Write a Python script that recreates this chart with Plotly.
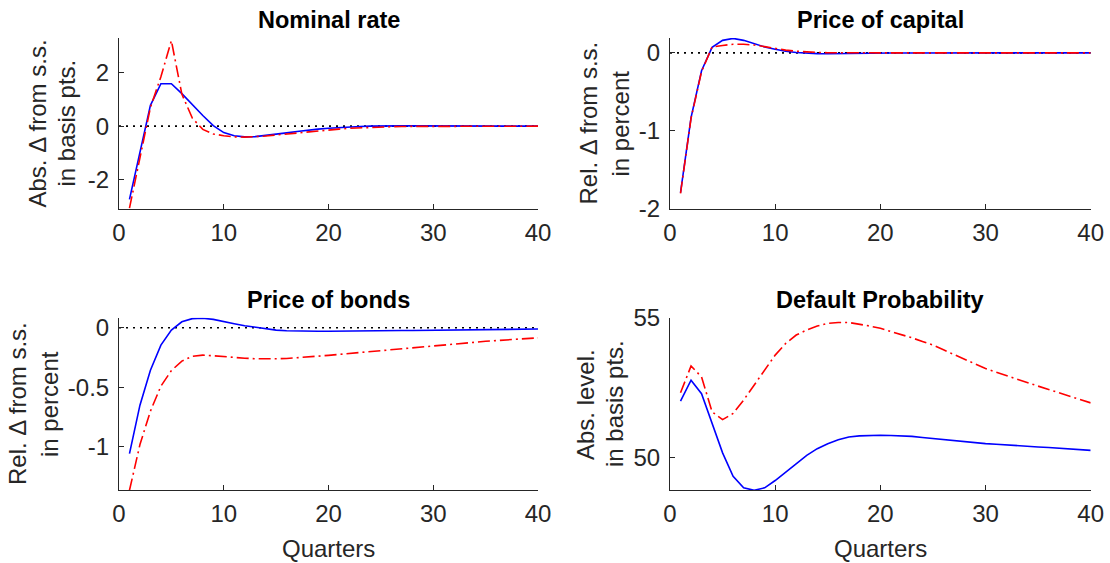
import plotly.graph_objects as go

quarters = list(range(1, 41))

# Nominal rate (abs. deviation, basis points)
nom_blue = [-2.74, -0.95, 0.78, 1.59, 1.59, 1.22, 0.80, 0.40, 0.02, -0.24,
            -0.36, -0.40, -0.39, -0.35, -0.30, -0.25, -0.20, -0.15, -0.11, -0.08,
            -0.05, -0.02, -0.01, 0.00, 0.01, 0.01, 0.01, 0.01, 0.01, 0.01,
            0.00, 0.00, 0.00, 0.00, 0.00, 0.00, 0.00, 0.00, 0.00, 0.00]
nom_red = [-3.07, -1.15, 0.70, 1.85, 3.20, 1.20, 0.30, -0.12, -0.29, -0.36,
           -0.40, -0.41, -0.40, -0.37, -0.33, -0.29, -0.25, -0.21, -0.17, -0.14,
           -0.11, -0.08, -0.06, -0.04, -0.03, -0.02, -0.01, -0.01, -0.01, 0.00,
           0.00, 0.00, 0.00, 0.00, 0.00, 0.00, 0.00, 0.00, 0.00, 0.00]

# Price of capital (rel. deviation, percent)
cap_blue = [-1.79, -0.83, -0.23, 0.07, 0.16, 0.185, 0.16, 0.115, 0.075, 0.045,
            0.02, 0.005, -0.005, -0.01, -0.012, -0.012, -0.01, -0.008, -0.006, -0.004,
            -0.003, -0.002, -0.001, -0.001, 0.0, 0.0, 0.0, 0.0, 0.0, 0.0,
            0.0, 0.0, 0.0, 0.0, 0.0, 0.0, 0.0, 0.0, 0.0, 0.0]
cap_red = [-1.80, -0.84, -0.24, 0.075, 0.095, 0.11, 0.11, 0.10, 0.08, 0.055,
           0.035, 0.02, 0.01, 0.005, 0.002, 0.0, 0.0, 0.0, 0.0, 0.0,
           0.0, 0.0, 0.0, 0.0, 0.0, 0.0, 0.0, 0.0, 0.0, 0.0,
           0.0, 0.0, 0.0, 0.0, 0.0, 0.0, 0.0, 0.0, 0.0, 0.0]

# Price of bonds (rel. deviation, percent)
bond_blue = [-1.056, -0.65, -0.356, -0.146, -0.02, 0.05, 0.076, 0.079, 0.07, 0.05,
             0.034, 0.017, 0.003, -0.011, -0.02, -0.025, -0.028, -0.03, -0.03, -0.03,
             -0.03, -0.029, -0.028, -0.027, -0.026, -0.025, -0.024, -0.023, -0.022, -0.021,
             -0.02, -0.019, -0.018, -0.017, -0.016, -0.015, -0.014, -0.013, -0.012, -0.011]
bond_red = [-1.364, -0.98, -0.70, -0.49, -0.36, -0.28, -0.24, -0.23, -0.235, -0.243,
            -0.25, -0.256, -0.26, -0.262, -0.261, -0.258, -0.253, -0.247, -0.24, -0.232,
            -0.224, -0.216, -0.207, -0.198, -0.19, -0.181, -0.173, -0.165, -0.157, -0.149,
            -0.142, -0.135, -0.128, -0.121, -0.114, -0.108, -0.102, -0.096, -0.09, -0.085]

# Default probability (abs. level, basis points)
dp_blue = [52.01, 52.76, 52.28, 51.21, 50.16, 49.32, 48.91, 48.82, 48.91, 49.17,
           49.47, 49.77, 50.07, 50.31, 50.49, 50.63, 50.73, 50.77, 50.79, 50.79,
           50.78, 50.77, 50.75, 50.71, 50.67, 50.64, 50.60, 50.56, 50.53, 50.49,
           50.47, 50.44, 50.42, 50.40, 50.37, 50.35, 50.33, 50.30, 50.28, 50.25]
dp_red = [52.31, 53.27, 52.88, 51.63, 51.35, 51.57, 52.05, 52.58, 53.15, 53.66,
          54.08, 54.38, 54.56, 54.70, 54.80, 54.83, 54.83, 54.77, 54.70, 54.62,
          54.51, 54.40, 54.28, 54.15, 54.02, 53.85, 53.68, 53.51, 53.34, 53.18,
          53.05, 52.92, 52.79, 52.67, 52.55, 52.43, 52.31, 52.19, 52.07, 51.95]

titles = ["Nominal rate", "Price of capital", "Price of bonds", "Default Probability"]
ylabels = [("Abs. Δ from s.s.", "in basis pts."),
           ("Rel. Δ from s.s.", "in percent"),
           ("Rel. Δ from s.s.", "in percent"),
           ("Abs. level.", "in basis pts.")]
yranges = [[-3.1, 3.3], [-2.0, 0.19], [-1.364, 0.084], [48.82, 55.0]]
yticks = [[-2, 0, 2], [-2, -1, 0], [-1, -0.5, 0], [50, 55]]
yticklabels = [["-2", "0", "2"], ["-2", "-1", "0"], ["-1", "-0.5", "0"], ["50", "55"]]
xticks = [0, 10, 20, 30, 40]
xticklabels = ["0", "10", "20", "30", "40"]
series = [(nom_blue, nom_red), (cap_blue, cap_red), (bond_blue, bond_red), (dp_blue, dp_red)]
zero_line = [True, True, True, False]

W, H = 1110, 563
FONT = "Arial, Liberation Sans, Helvetica, sans-serif"
INK = "#262626"

# pixel layout of plot areas
xdoms_px = [(119, 538), (670, 1090.7), (119, 538), (670, 1090.7)]
ydoms_px = [(38, 209), (38, 209), (317.7, 490.3), (317.7, 490.3)]
ylab_x = [(37, 66), (588, 620), (17, 49), (585, 614)]

fig = go.Figure()
annotations = []
layout = {}
for i in range(4):
    ax = "" if i == 0 else str(i + 1)
    xa, ya = "x" + ax, "y" + ax
    b, r = series[i]
    if zero_line[i]:
        fig.add_trace(go.Scatter(x=[0, 40], y=[0, 0], mode="lines", xaxis=xa, yaxis=ya,
                                 line=dict(color="black", width=1.6, dash="2px,5px"),
                                 hoverinfo="skip", showlegend=False))
    fig.add_trace(go.Scatter(x=quarters, y=b, mode="lines", xaxis=xa, yaxis=ya,
                             line=dict(color="#0000FF", width=1.6), showlegend=False))
    fig.add_trace(go.Scatter(x=quarters, y=r, mode="lines", xaxis=xa, yaxis=ya,
                             line=dict(color="#FF0000", width=1.6, dash="12px,4px,2px,4px"),
                             showlegend=False))
    x0, x1 = xdoms_px[i]
    y0, y1 = ydoms_px[i]
    common = dict(showline=True, linecolor=INK, linewidth=1, ticks="inside", ticklen=5,
                  tickwidth=1, tickcolor=INK, showgrid=False, zeroline=False, automargin=False,
                  tickfont=dict(family=FONT, size=24, color=INK), mirror=False)
    layout["xaxis" + ax] = dict(domain=[x0 / W, x1 / W], range=[0, 40], tickvals=xticks,
                                ticktext=xticklabels, anchor=ya, ticklabelstandoff=2, **common)
    layout["yaxis" + ax] = dict(domain=[1 - y1 / H, 1 - y0 / H], range=yranges[i],
                                tickvals=yticks[i], ticktext=yticklabels[i], anchor=xa,
                                ticklabelstandoff=4, **common)
    cx = (x0 + x1) / 2
    annotations.append(dict(text="<b>" + titles[i] + "</b>", x=cx / W, y=1 - (20 if i < 2 else 300) / H,
                            xref="paper", yref="paper", xanchor="center", yanchor="middle",
                            showarrow=False, font=dict(family=FONT, size=23.5, color="black")))
    cy = (y0 + y1) / 2
    for lx, txt in zip(ylab_x[i], ylabels[i]):
        annotations.append(dict(text=txt, x=lx / W, y=1 - cy / H, xref="paper", yref="paper",
                                xanchor="center", yanchor="middle", textangle=-90, showarrow=False,
                                font=dict(family=FONT, size=24, color=INK)))
    if i >= 2:
        annotations.append(dict(text="Quarters", x=cx / W, y=1 - 548 / H, xref="paper", yref="paper",
                                xanchor="center", yanchor="middle", showarrow=False,
                                font=dict(family=FONT, size=24, color=INK)))

fig.update_layout(width=W, height=H, margin=dict(l=0, r=0, t=0, b=0, pad=0, autoexpand=False),
                  paper_bgcolor="white", plot_bgcolor="white", showlegend=False,
                  annotations=annotations, **layout)
fig.write_html("out.html", config={"displayModeBar": False, "staticPlot": True},
               post_script="document.body.style.margin='0';document.body.style.overflow='hidden';")
